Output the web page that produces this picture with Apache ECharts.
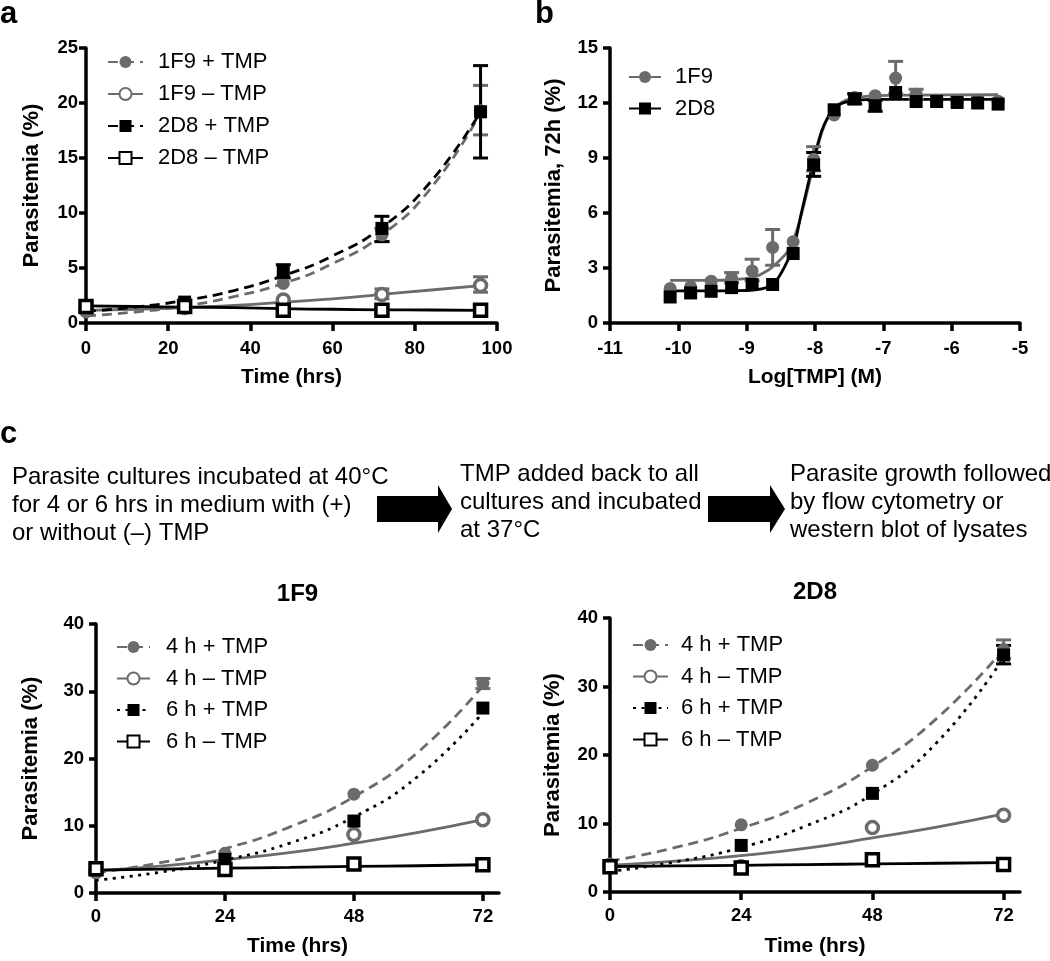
<!DOCTYPE html>
<html><head><meta charset="utf-8">
<script src="https://cdn.jsdelivr.net/npm/echarts@6/dist/echarts.min.js"></script>
<style>html,body{margin:0;padding:0;background:#fff}#c{width:1050px;height:961px}</style>
</head><body><div id="c"></div>
<script>
const FONT = '"Liberation Sans", Arial, Helvetica, sans-serif';
const GRAY = '#6b6b6b', BLACK = '#000000';

// ---------- Panel a : parasitemia vs time ----------
const timeA = [0, 24, 48, 72, 96];
const a1F9Plus  = [1.0, 1.5, 3.6, 8.0, 19.3];
const a1F9Minus = [1.2, 1.4, 2.1, 2.6, 3.4];
const a2D8Plus  = [1.5, 1.9, 4.6, 8.6, 19.2];
const a2D8Minus = [1.5, 1.5, 1.15, 1.15, 1.15];
const errA1F9Plus  = [[72, 7.4, 8.6], [96, 17.1, 21.6]];
const errA1F9Minus = [[72, 2.2, 3.1], [96, 2.8, 4.2]];
const errA2D8Plus  = [[48, 4.1, 5.3], [72, 7.4, 9.7], [96, 15.0, 23.4]];
const fitTimeA = [0, 12, 24, 36, 48, 60, 72, 84, 96];
const fitA1F9Plus  = [0.65, 1.0, 1.55, 2.4, 3.6, 5.4, 8.0, 12.3, 19.1];
const fitA1F9Minus = [1.15, 1.25, 1.4, 1.6, 1.9, 2.2, 2.6, 3.0, 3.4];
const fitA2D8Plus  = [1.05, 1.45, 2.05, 2.95, 4.3, 6.1, 8.7, 12.9, 19.2];
const fitA2D8Minus = [1.55, 1.5, 1.45, 1.4, 1.3, 1.25, 1.2, 1.18, 1.15];
const legendA = ['1F9 + TMP', '1F9 \u2013 TMP', '2D8 + TMP', '2D8 \u2013 TMP'];

// ---------- Panel b : dose response ----------
const logTMP = [-10.12, -9.82, -9.52, -9.22, -8.92, -8.62, -8.32, -8.02, -7.72, -7.42, -7.12, -6.82, -6.52, -6.22, -5.92, -5.62, -5.32];
const b1F9 = [1.88, 1.97, 2.28, 2.46, 2.84, 4.12, 4.43, 8.93, 11.35, 12.3, 12.4, 13.36, 12.48, 12.08, 12.08, 12.1, 12.1];
const b2D8 = [1.42, 1.64, 1.73, 1.93, 2.1, 2.1, 3.79, 8.62, 11.63, 12.23, 11.85, 12.57, 12.08, 12.08, 12.03, 12.0, 11.94];
const errB1F9 = [[-9.22, 2.2, 2.75], [-8.92, 2.3, 3.48], [-8.62, 3.15, 5.1], [-8.02, 8.3, 9.62], [-6.82, 12.5, 14.27], [-6.52, 12.2, 12.75]];
const errB2D8 = [[-8.02, 8.0, 9.3], [-7.42, 11.95, 12.5], [-7.12, 11.55, 12.15]];
const fitLogTMP = [-10.12, -9.6, -9.2, -8.9, -8.7, -8.55, -8.4, -8.3, -8.2, -8.1, -8.0, -7.9, -7.8, -7.7, -7.55, -7.4, -7.1, -6.5, -5.32];
const fitB1F9 = [2.33, 2.33, 2.36, 2.5, 2.85, 3.3, 3.9, 4.7, 5.9, 7.4, 9.0, 10.4, 11.3, 11.8, 12.15, 12.3, 12.4, 12.43, 12.45];
const fitB2D8 = [1.75, 1.75, 1.76, 1.8, 1.95, 2.4, 3.4, 4.3, 6.0, 7.6, 9.2, 10.5, 11.3, 11.8, 12.05, 12.15, 12.2, 12.2, 12.2];
const legendB = ['1F9', '2D8'];

// ---------- Panel c : recovery after heat shock ----------
const timeC = [0, 24, 48, 72];
const cTicks = [0, 24, 48, 72];
const c1F9_4p = [3.2, 5.9, 14.7, 31.2];
const c1F9_4m = [3.2, 3.6, 8.7, 10.9];
const c1F9_6p = [3.5, 5.0, 10.7, 27.5];
const c1F9_6m = [3.6, 3.5, 4.3, 4.2];
const errC1F9_4p = [[72, 30.4, 31.9]];
const c2D8_4p = [3.9, 9.8, 18.5, 35.4];
const c2D8_4m = [3.9, 3.7, 9.4, 11.2];
const c2D8_6p = [3.7, 6.8, 14.4, 34.6];
const c2D8_6m = [3.7, 3.5, 4.7, 4.0];
const errC2D8_4p = [[72, 34.1, 36.8]];
const errC2D8_6p = [[72, 33.3, 36.0]];
const fitTimeC = [0, 12, 24, 36, 48, 60, 72];
const fitC1F9_4p = [3.0, 4.5, 6.6, 9.8, 14.3, 21.0, 30.8];
const fitC1F9_4m = [3.3, 4.0, 4.95, 6.0, 7.4, 9.0, 10.9];
const fitC1F9_6p = [1.9, 3.1, 4.9, 7.4, 11.3, 17.4, 26.8];
const fitC1F9_6m = [3.4, 3.55, 3.7, 3.8, 3.95, 4.05, 4.2];
const fitC2D8_4p = [4.5, 6.5, 9.3, 13.0, 18.3, 25.5, 35.4];
const fitC2D8_4m = [3.9, 4.5, 5.3, 6.4, 7.9, 9.5, 11.4];
const fitC2D8_6p = [3.0, 4.4, 6.5, 9.7, 14.3, 22.0, 34.2];
const fitC2D8_6m = [3.7, 3.8, 3.9, 4.0, 4.1, 4.2, 4.3];
const legendC = ['4 h + TMP', '4 h \u2013 TMP', '6 h + TMP', '6 h \u2013 TMP'];

// ---------- texts ----------
const stepTexts = [
  'Parasite cultures incubated at 40\u00b0C\nfor 4 or 6 hrs in medium with (+)\nor without (\u2013) TMP',
  'TMP added back to all\ncultures and incubated\nat 37\u00b0C',
  'Parasite growth followed\nby flow cytometry or\nwestern blot of lysates'
];

// ---------- helpers ----------
const DASH = [10, 6], DOT = [3, 5.5];
function pts(xs, ys) { return xs.map((x, i) => [x, ys[i]]); }
function symStyle(color, open) {
  return open ? { color: '#ffffff', borderColor: color, borderWidth: 3.5, opacity: 1 } : { color: color, borderWidth: 0, opacity: 1 };
}
function fitS(name, g, xs, ys, color, dash, symbol, open, sm) {
  return {
    name: name, type: 'line', xAxisIndex: g, yAxisIndex: g, data: pts(xs, ys),
    smooth: sm || 0.5, symbol: symbol, showSymbol: false, symbolSize: 12,
    lineStyle: { color: color, width: 2.8, type: dash }, itemStyle: symStyle(color, open),
    silent: true, clip: false, z: 2, emphasis: { disabled: true }
  };
}
function ptsS(id, g, xs, ys, color, symbol, open) {
  const size = open ? 12 : 13;
  return {
    name: id, type: 'scatter', xAxisIndex: g, yAxisIndex: g, data: pts(xs, ys),
    symbol: symbol, symbolSize: size, itemStyle: symStyle(color, open),
    silent: true, clip: false, z: 4, emphasis: { disabled: true }
  };
}
function errS(g, errs, color) {
  return {
    type: 'custom', xAxisIndex: g, yAxisIndex: g, data: errs, silent: true, clip: false, z: 3,
    encode: { x: 0, y: [1, 2] },
    renderItem: function (params, api) {
      const x = api.value(0);
      const p1 = api.coord([x, api.value(1)]), p2 = api.coord([x, api.value(2)]);
      const w = 7.5, st = { stroke: color, lineWidth: 3 };
      return { type: 'group', children: [
        { type: 'line', shape: { x1: p1[0], y1: p1[1], x2: p2[0], y2: p2[1] }, style: st },
        { type: 'line', shape: { x1: p1[0] - w, y1: p1[1], x2: p1[0] + w, y2: p1[1] }, style: st },
        { type: 'line', shape: { x1: p2[0] - w, y1: p2[1], x2: p2[0] + w, y2: p2[1] }, style: st }
      ] };
    }
  };
}
function axisBase(extra) {
  return Object.assign({
    type: 'value', splitLine: { show: false },
    axisLine: { show: true, onZero: false, lineStyle: { color: '#000', width: 3.5 } },
    axisTick: { show: true, inside: false, length: 8, lineStyle: { color: '#000', width: 3.5 } },
    axisLabel: { color: '#000', fontWeight: 'bold', fontSize: 18.5, fontFamily: FONT },
    nameLocation: 'middle',
    nameTextStyle: { color: '#000', fontWeight: 'bold', fontSize: 21, fontFamily: FONT }
  }, extra);
}
function legendCfg(names, left, top, iw, pad, gap) {
  return {
    data: names, orient: 'vertical', left: left, top: top, itemWidth: iw, itemHeight: 15,
    itemGap: gap, selectedMode: false, padding: 0,
    textStyle: { fontSize: 22, fontFamily: FONT, color: '#000', padding: [0, 0, 0, pad] }
  };
}
function arrow(x0, xh, xt, yc) {
  return { type: 'polygon', shape: { points: [[x0, yc - 13], [xh, yc - 13], [xh, yc - 24], [xt, yc], [xh, yc + 24], [xh, yc + 13], [x0, yc + 13]] }, style: { fill: '#000' } };
}
function txt(x, y, text, font, align, va, lh) {
  const s = { text: text, font: font, fill: '#000', align: align || 'left', verticalAlign: va || 'middle' };
  if (lh) s.lineHeight = lh;
  return { type: 'text', x: x, y: y, style: s, silent: true };
}

const yNameA = 'Parasitemia (%)';
const option = {
  animation: false,
  backgroundColor: '#ffffff',
  textStyle: { fontFamily: FONT },
  grid: [
    { left: 86, top: 48, width: 411, height: 275, outerBoundsMode: 'none' },
    { left: 610, top: 48, width: 410, height: 275, outerBoundsMode: 'none' },
    { left: 96, top: 624, width: 403, height: 269, outerBoundsMode: 'none' },
    { left: 610, top: 618, width: 410, height: 274, outerBoundsMode: 'none' }
  ],
  xAxis: [
    axisBase({ gridIndex: 0, min: 0, max: 100, interval: 20, name: 'Time (hrs)', nameGap: 44,
      axisLabel: { color: '#000', fontWeight: 'bold', fontSize: 18.5, fontFamily: FONT, margin: 16 } }),
    axisBase({ gridIndex: 1, min: -11, max: -5, interval: 1, name: 'Log[TMP] (M)', nameGap: 44,
      axisLabel: { color: '#000', fontWeight: 'bold', fontSize: 18.5, fontFamily: FONT, margin: 16 } }),
    axisBase({ gridIndex: 2, min: 0, max: 75, interval: 24, name: 'Time (hrs)', nameGap: 43,
      axisTick: { show: true, length: 8, customValues: cTicks, lineStyle: { color: '#000', width: 3.5 } },
      axisLabel: { color: '#000', fontWeight: 'bold', fontSize: 18.5, fontFamily: FONT, margin: 14, customValues: cTicks } }),
    axisBase({ gridIndex: 3, min: 0, max: 75, interval: 24, name: 'Time (hrs)', nameGap: 44,
      axisTick: { show: true, length: 8, customValues: cTicks, lineStyle: { color: '#000', width: 3.5 } },
      axisLabel: { color: '#000', fontWeight: 'bold', fontSize: 18.5, fontFamily: FONT, margin: 14, customValues: cTicks } })
  ],
  yAxis: [
    axisBase({ gridIndex: 0, min: 0, max: 25, interval: 5, name: yNameA, nameGap: 43,
      axisTick: { show: true, length: 7, lineStyle: { color: '#000', width: 3.5 } },
      axisLabel: { color: '#000', fontWeight: 'bold', fontSize: 18.5, fontFamily: FONT, margin: 8 },
      nameTextStyle: { color: '#000', fontWeight: 'bold', fontSize: 22, fontFamily: FONT } }),
    axisBase({ gridIndex: 1, min: 0, max: 15, interval: 3, name: 'Parasitemia, 72h (%)', nameGap: 45,
      axisTick: { show: true, length: 7, lineStyle: { color: '#000', width: 3.5 } },
      axisLabel: { color: '#000', fontWeight: 'bold', fontSize: 18.5, fontFamily: FONT, margin: 12 },
      nameTextStyle: { color: '#000', fontWeight: 'bold', fontSize: 22, fontFamily: FONT } }),
    axisBase({ gridIndex: 2, min: 0, max: 40, interval: 10, name: yNameA, nameGap: 54,
      axisTick: { show: true, length: 7, lineStyle: { color: '#000', width: 3.5 } },
      axisLabel: { color: '#000', fontWeight: 'bold', fontSize: 18.5, fontFamily: FONT, margin: 12 },
      nameTextStyle: { color: '#000', fontWeight: 'bold', fontSize: 22, fontFamily: FONT } }),
    axisBase({ gridIndex: 3, min: 0, max: 40, interval: 10, name: yNameA, nameGap: 46,
      axisTick: { show: true, length: 7, lineStyle: { color: '#000', width: 3.5 } },
      axisLabel: { color: '#000', fontWeight: 'bold', fontSize: 18.5, fontFamily: FONT, margin: 12 },
      nameTextStyle: { color: '#000', fontWeight: 'bold', fontSize: 22, fontFamily: FONT } })
  ],
  legend: [
    legendCfg(legendA, 107, 51, 35, 10, 10),
    legendCfg(legendB, 628, 66, 32, 9, 9.5),
    legendCfg(legendC, 116, 636, 33, 11, 9.5),
    legendCfg(legendC, 632, 634, 35, 8, 9.5)
  ],
  graphic: [
    txt(0, 14.5, 'a', 'bold 31px ' + FONT),
    txt(535, 14.5, 'b', 'bold 31px ' + FONT),
    txt(0, 434.5, 'c', 'bold 31px ' + FONT),
    txt(12, 463, stepTexts[0], '24px ' + FONT, 'left', 'top', 28),
    txt(460, 460, stepTexts[1], '24px ' + FONT, 'left', 'top', 28),
    txt(790, 460, stepTexts[2], '24px ' + FONT, 'left', 'top', 28),
    arrow(377, 438, 452, 509),
    arrow(708, 770, 785, 509),
    txt(297.5, 594, '1F9', 'bold 24px ' + FONT, 'center'),
    txt(815, 592, '2D8', 'bold 24px ' + FONT, 'center')
  ],
  series: [
    // panel a
    fitS(legendA[0], 0, fitTimeA, fitA1F9Plus, GRAY, DASH, 'circle', false),
    fitS(legendA[1], 0, fitTimeA, fitA1F9Minus, GRAY, 'solid', 'circle', true),
    fitS(legendA[2], 0, fitTimeA, fitA2D8Plus, BLACK, DASH, 'rect', false),
    fitS(legendA[3], 0, fitTimeA, fitA2D8Minus, BLACK, 'solid', 'rect', true),
    errS(0, errA1F9Plus, GRAY), errS(0, errA1F9Minus, GRAY), errS(0, errA2D8Plus, BLACK),
    ptsS('a1F9p', 0, timeA, a1F9Plus, GRAY, 'circle', false),
    ptsS('a1F9m', 0, timeA, a1F9Minus, GRAY, 'circle', true),
    ptsS('a2D8p', 0, timeA, a2D8Plus, BLACK, 'rect', false),
    ptsS('a2D8m', 0, timeA, a2D8Minus, BLACK, 'rect', true),
    // panel b
    fitS(legendB[0], 1, fitLogTMP, fitB1F9, GRAY, 'solid', 'circle', false, 0.3),
    fitS(legendB[1], 1, fitLogTMP, fitB2D8, BLACK, 'solid', 'rect', false, 0.3),
    errS(1, errB1F9, GRAY), errS(1, errB2D8, BLACK),
    ptsS('b1F9', 1, logTMP, b1F9, GRAY, 'circle', false),
    ptsS('b2D8', 1, logTMP, b2D8, BLACK, 'rect', false),
    // panel c 1F9
    fitS(legendC[0], 2, fitTimeC, fitC1F9_4p, GRAY, DASH, 'circle', false),
    fitS(legendC[1], 2, fitTimeC, fitC1F9_4m, GRAY, 'solid', 'circle', true),
    fitS(legendC[2], 2, fitTimeC, fitC1F9_6p, BLACK, DOT, 'rect', false),
    fitS(legendC[3], 2, fitTimeC, fitC1F9_6m, BLACK, 'solid', 'rect', true),
    errS(2, errC1F9_4p, GRAY),
    ptsS('c1_4p', 2, timeC, c1F9_4p, GRAY, 'circle', false),
    ptsS('c1_4m', 2, timeC, c1F9_4m, GRAY, 'circle', true),
    ptsS('c1_6p', 2, timeC, c1F9_6p, BLACK, 'rect', false),
    ptsS('c1_6m', 2, timeC, c1F9_6m, BLACK, 'rect', true),
    // panel c 2D8
    fitS(legendC[0], 3, fitTimeC, fitC2D8_4p, GRAY, DASH, 'circle', false),
    fitS(legendC[1], 3, fitTimeC, fitC2D8_4m, GRAY, 'solid', 'circle', true),
    fitS(legendC[2], 3, fitTimeC, fitC2D8_6p, BLACK, DOT, 'rect', false),
    fitS(legendC[3], 3, fitTimeC, fitC2D8_6m, BLACK, 'solid', 'rect', true),
    errS(3, errC2D8_4p, GRAY), errS(3, errC2D8_6p, BLACK),
    ptsS('c2_4p', 3, timeC, c2D8_4p, GRAY, 'circle', false),
    ptsS('c2_4m', 3, timeC, c2D8_4m, GRAY, 'circle', true),
    ptsS('c2_6p', 3, timeC, c2D8_6p, BLACK, 'rect', false),
    ptsS('c2_6m', 3, timeC, c2D8_6m, BLACK, 'rect', true)
  ]
};
const chart = echarts.init(document.getElementById('c'), null, { renderer: 'canvas' });
chart.setOption(option);
</script>
</body></html>
